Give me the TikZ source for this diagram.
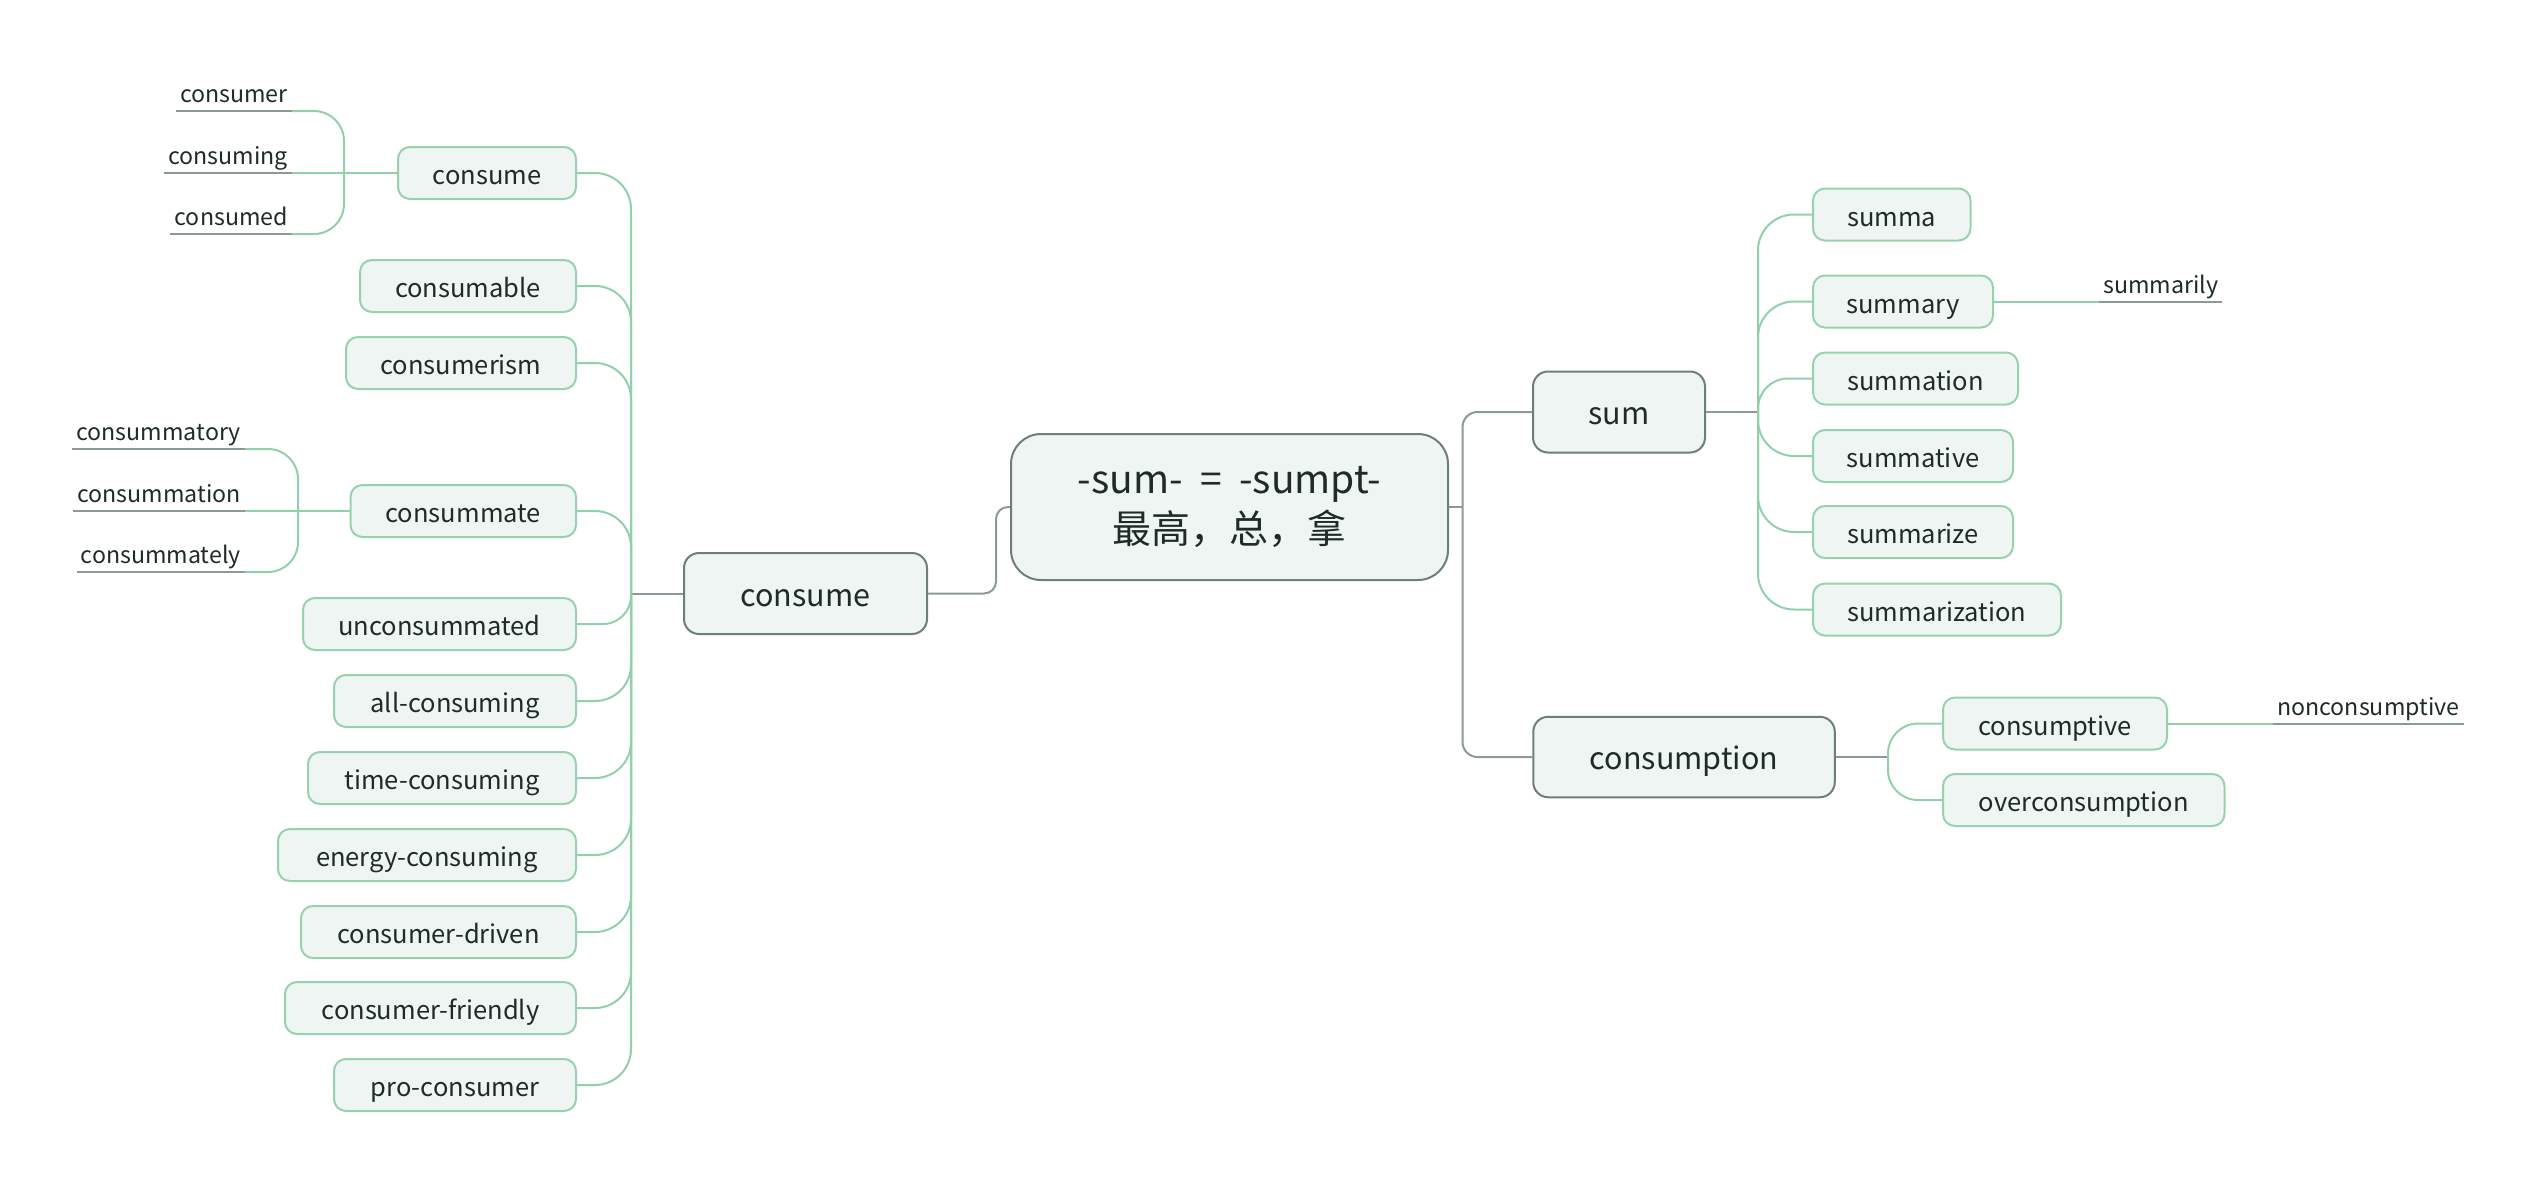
\documentclass[tikz,border=0pt]{standalone}
\usepackage{fontspec}
\setmainfont{Noto Sans CJK SC}
\usepackage{xcolor}
\usetikzlibrary{positioning}
\definecolor{boxfill}{HTML}{EFF5F2}
\definecolor{boxline}{HTML}{96D2AE}
\definecolor{mainline}{HTML}{6E7F7A}
\definecolor{greenline}{HTML}{92D0AC}
\definecolor{grayline}{HTML}{8C9A96}
\definecolor{ink}{HTML}{1E2B28}

\begin{document}
\begin{tikzpicture}[x=1pt,y=-1pt,
	rootbox/.style={fill=boxfill, draw=mainline, line width=2pt, rounded corners=30pt, minimum width=437pt, minimum height=146pt, align=center, text=ink, font=\fontsize{39}{50}\selectfont},
	mainbox/.style={fill=boxfill, draw=mainline, line width=2pt, rounded corners=15pt, minimum height=81pt, text height=29pt, text depth=4pt, text=ink, font=\fontsize{30.5}{36}\selectfont},
	childbox/.style={fill=boxfill, draw=boxline, line width=2pt, rounded corners=12pt, minimum height=52pt, inner xsep=0pt, text height=27pt, text depth=4pt, text=ink, font=\fontsize{25.5}{30}\selectfont},
	leaf/.style={inner xsep=4pt, inner ysep=2pt, text depth=6pt, text=ink, font=\fontsize{23.2}{28}\selectfont,
		append after command={(\tikzlastnode.south west) edge[draw=grayline, line width=2pt] (\tikzlastnode.south east)}},
	graylink/.style={draw=grayline, line width=2pt},
	greenlink/.style={draw=greenline, line width=2pt}]
	\useasboundingbox (0,0) rectangle (2538,1186);

	% central and main topics
	\node [rootbox] (root) at (1229.5,507) {-sum-\ \ =\ \ -sumpt-\\最高，总，拿};
	\node [mainbox, minimum width=243pt] (consume) at (805.5,593.5) {consume};
	\node [mainbox, minimum width=172pt] (sum) at (1619,412) {sum};
	\node [mainbox, minimum width=301.5pt, minimum height=80.5pt] (consumption) at (1684,757) {consumption};

	\coordinate (jrootl) at (996,507);
	\coordinate (jroot) at (1462.5,507);
	\coordinate (jcon) at (631,593.5);
	\coordinate (jsum) at (1758,412);
	\coordinate (jtion) at (1888,757);

	\draw [graylink, rounded corners=12pt] (root.west) -- (jrootl) |- (consume.east);
	\draw [graylink] (root.east) -- (jroot);
	\draw [graylink, rounded corners=15pt] (jroot) |- (sum.west);
	\draw [graylink, rounded corners=15pt] (jroot) |- (consumption.west);

	% consume branch
	\node [childbox, anchor=east, minimum width=178pt] (cons) at (577,173) {consume};
	\node [childbox, anchor=east, minimum width=216pt] (consable) at (577,286) {consumable};
	\node [childbox, anchor=east, minimum width=230pt] (consism) at (577,363) {consumerism};
	\node [childbox, anchor=east, minimum width=225.5pt] (consmate) at (577,511) {consummate};
	\node [childbox, anchor=east, minimum width=273pt] (unconsmated) at (577,624) {unconsummated};
	\node [childbox, anchor=east, minimum width=242pt] (allcons) at (577,701) {all-consuming};
	\node [childbox, anchor=east, minimum width=268pt] (timecons) at (577,778) {time-consuming};
	\node [childbox, anchor=east, minimum width=298pt] (energycons) at (577,855) {energy-consuming};
	\node [childbox, anchor=east, minimum width=275pt] (consdriven) at (577,932) {consumer-driven};
	\node [childbox, anchor=east, minimum width=291pt] (consfriendly) at (577,1008) {consumer-friendly};
	\node [childbox, anchor=east, minimum width=242pt] (procons) at (577,1085) {pro-consumer};

	\draw [graylink] (consume.west) -- (jcon);
	\draw [greenlink, rounded corners=36pt] (jcon) |- (cons.east);
	\draw [greenlink, rounded corners=36pt] (jcon) |- (consable.east);
	\draw [greenlink, rounded corners=36pt] (jcon) |- (consism.east);
	\draw [greenlink, rounded corners=36pt] (jcon) |- (consmate.east);
	\draw [greenlink, rounded corners=28pt] (jcon) |- (unconsmated.east);
	\draw [greenlink, rounded corners=36pt] (jcon) |- (allcons.east);
	\draw [greenlink, rounded corners=36pt] (jcon) |- (timecons.east);
	\draw [greenlink, rounded corners=36pt] (jcon) |- (energycons.east);
	\draw [greenlink, rounded corners=36pt] (jcon) |- (consdriven.east);
	\draw [greenlink, rounded corners=36pt] (jcon) |- (consfriendly.east);
	\draw [greenlink, rounded corners=36pt] (jcon) |- (procons.east);

	% leaves of consume
	\coordinate (jleafa) at (344,173);
	\node [leaf, anchor=south east] (consumer) at (292,111) {consumer};
	\node [leaf, anchor=south east] (consuming) at (292,173) {consuming};
	\node [leaf, anchor=south east] (consumed) at (292,234) {consumed};
	\draw [greenlink] (cons.west) -- (jleafa);
	\draw [greenlink, rounded corners=30pt] (jleafa) |- (consumer.south east);
	\draw [greenlink] (jleafa) -- (consuming.south east);
	\draw [greenlink, rounded corners=30pt] (jleafa) |- (consumed.south east);

	% leaves of consummate
	\coordinate (jleafb) at (298,511);
	\node [leaf, anchor=south east] (consmatory) at (245,449) {consummatory};
	\node [leaf, anchor=south east] (consmation) at (245,511) {consummation};
	\node [leaf, anchor=south east] (consmately) at (245,572) {consummately};
	\draw [greenlink] (consmate.west) -- (jleafb);
	\draw [greenlink, rounded corners=30pt] (jleafb) |- (consmatory.south east);
	\draw [greenlink] (jleafb) -- (consmation.south east);
	\draw [greenlink, rounded corners=30pt] (jleafb) |- (consmately.south east);

	% sum branch
	\node [childbox, anchor=west, minimum width=157.5pt] (summa) at (1812,214.5) {summa};
	\node [childbox, anchor=west, minimum width=180pt] (summary) at (1812,301.5) {summary};
	\node [childbox, anchor=west, minimum width=205pt] (summation) at (1812,378.5) {summation};
	\node [childbox, anchor=west, minimum width=200pt] (summative) at (1812,456) {summative};
	\node [childbox, anchor=west, minimum width=200pt] (summarize) at (1812,532) {summarize};
	\node [childbox, anchor=west, minimum width=248pt] (summarization) at (1812,609.5) {summarization};

	\draw [graylink] (sum.east) -- (jsum);
	\draw [greenlink, rounded corners=36pt] (jsum) |- (summa.west);
	\draw [greenlink, rounded corners=36pt] (jsum) |- (summary.west);
	\draw [greenlink, rounded corners=30pt] (jsum) |- (summation.west);
	\draw [greenlink, rounded corners=36pt] (jsum) |- (summative.west);
	\draw [greenlink, rounded corners=36pt] (jsum) |- (summarize.west);
	\draw [greenlink, rounded corners=36pt] (jsum) |- (summarization.west);

	\node [leaf, anchor=south west] (summarily) at (2099,301.5) {summarily};
	\draw [greenlink] (summary.east) -- (summarily.south west);

	% consumption branch
	\node [childbox, anchor=west, minimum width=224pt] (consptive) at (1942,723.5) {consumptive};
	\node [childbox, anchor=west, minimum width=281.5pt] (overcons) at (1942,800) {overconsumption};

	\draw [graylink] (consumption.east) -- (jtion);
	\draw [greenlink, rounded corners=30pt] (jtion) |- (consptive.west);
	\draw [greenlink, rounded corners=30pt] (jtion) |- (overcons.west);

	\node [leaf, anchor=south west] (noncons) at (2273,723.5) {nonconsumptive};
	\draw [greenlink] (consptive.east) -- (noncons.south west);

\end{tikzpicture}
\end{document}
